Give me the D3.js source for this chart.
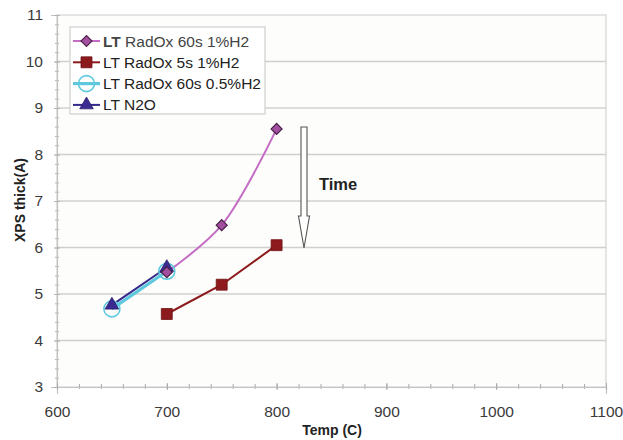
<!DOCTYPE html>
<html>
<head>
<meta charset="utf-8">
<script src="https://cdn.jsdelivr.net/npm/d3@7"></script>
<style>
  html, body { margin: 0; padding: 0; background: #fff; }
  svg { display: block; font-family: "Liberation Sans", Arial, sans-serif; }
</style>
</head>
<body>
<svg id="chart" width="623" height="440"></svg>
<script>
// Oxide thickness (XPS) versus anneal temperature
const xTicks = [600, 700, 800, 900, 1000, 1100];
const yTicks = [3, 4, 5, 6, 7, 8, 9, 10, 11];

const seriesNames = ["LT RadOx 60s 1%H2", "LT RadOx 5s 1%H2", "LT RadOx 60s 0.5%H2", "LT N2O"];

const radox60_1_temp = [700, 750, 800];
const radox60_1_thick = [5.47, 6.48, 8.55];

const radox5_1_temp = [700, 750, 800];
const radox5_1_thick = [4.57, 5.2, 6.05];

const radox60_05_temp = [650, 700];
const radox60_05_thick = [4.68, 5.49];

const n2o_temp = [650, 700];
const n2o_thick = [4.76, 5.57];

const svg = d3.select("#chart");
const plot = { left: 57, right: 606, top: 15, bottom: 387 };

const x = d3.scaleLinear().domain([600, 1100]).range([plot.left, plot.right]);
const y = d3.scaleLinear().domain([3, 11]).range([plot.bottom, plot.top]);

// plot background and frame
svg.append("rect")
  .attr("x", plot.left).attr("y", plot.top)
  .attr("width", plot.right - plot.left).attr("height", plot.bottom - plot.top)
  .attr("fill", "#fdfdfb").attr("stroke", "#d4d4d4").attr("stroke-width", 1.2);

// horizontal gridlines
svg.append("g").selectAll("line")
  .data(yTicks.filter(d => d > 3 && d < 11))
  .join("line")
  .attr("x1", plot.left).attr("x2", plot.right)
  .attr("y1", d => y(d)).attr("y2", d => y(d))
  .attr("stroke", "#d0d0d0").attr("stroke-width", 1.6);

// y axis with minor ticks
const yMinor = d3.range(3, 11.001, 0.2);
svg.append("g").attr("transform", `translate(${plot.left},0)`)
  .call(d3.axisLeft(y).tickValues(yMinor).tickSize(4).tickFormat(""))
  .call(g => g.select(".domain").remove())
  .call(g => g.selectAll(".tick line").attr("stroke", "#b4b4b4").attr("transform", "translate(2,0)"));
svg.append("g").attr("transform", `translate(${plot.left},0)`)
  .call(d3.axisLeft(y).tickValues(yTicks).tickSize(6).tickPadding(8).tickFormat(d3.format("d")))
  .call(g => g.select(".domain").attr("stroke", "#c4c4c4").attr("stroke-width", 1.2))
  .call(g => g.selectAll(".tick line").attr("stroke", "#b4b4b4").attr("transform", "translate(3,0)"))
  .call(g => g.selectAll(".tick text").attr("fill", "#3a3a3a").attr("font-size", 15.5)
    .attr("font-family", "'Liberation Sans', Arial, sans-serif"));

// x axis with minor ticks
const xMinor = d3.range(600, 1100.001, 20);
svg.append("g").attr("transform", `translate(0,${plot.bottom})`)
  .call(d3.axisBottom(x).tickValues(xMinor).tickSize(5).tickFormat(""))
  .call(g => g.select(".domain").remove())
  .call(g => g.selectAll(".tick line").attr("stroke", "#aaaaaa").attr("transform", "translate(0,-3)"));
svg.append("g").attr("transform", `translate(0,${plot.bottom})`)
  .call(d3.axisBottom(x).tickValues(xTicks).tickSize(7).tickPadding(12).tickFormat(d3.format("d")))
  .call(g => g.select(".domain").attr("stroke", "#c4c4c4").attr("stroke-width", 1.2))
  .call(g => g.selectAll(".tick line").attr("stroke", "#aaaaaa").attr("transform", "translate(0,-4)"))
  .call(g => g.selectAll(".tick text").attr("fill", "#3a3a3a").attr("font-size", 15.5)
    .attr("font-family", "'Liberation Sans', Arial, sans-serif"));

// axis titles
svg.append("text")
  .attr("x", 332).attr("y", 435)
  .attr("text-anchor", "middle").attr("font-weight", "bold").attr("font-size", 14).attr("fill", "#222")
  .text("Temp (C)");
svg.append("text")
  .attr("transform", "translate(25,200) rotate(-90)")
  .attr("text-anchor", "middle").attr("font-weight", "bold").attr("font-size", 14).attr("fill", "#222")
  .text("XPS thick(A)");

// series
const zip = (xs, ys) => xs.map((t, i) => ({ t, v: ys[i] }));
const lineStraight = d3.line().x(d => x(d.t)).y(d => y(d.v));
const lineSmooth = d3.line().x(d => x(d.t)).y(d => y(d.v)).curve(d3.curveCatmullRom.alpha(0.5));

const symDiamond = d3.symbol().type(d3.symbolSquare).size(60);
const symSquare = d3.symbol().type(d3.symbolSquare).size(120);
const symTriangle = d3.symbol().type(d3.symbolTriangle).size(80);

const series = [
  { name: seriesNames[2], data: zip(radox60_05_temp, radox60_05_thick), color: "#5ec9de", width: 3.2, line: lineStraight,
    marker: (g) => g.append("circle").attr("r", 8).attr("fill", "none").attr("stroke", "#5ec9de").attr("stroke-width", 1.6) },
  { name: seriesNames[3], data: zip(n2o_temp, n2o_thick), color: "#33298a", width: 2, line: lineStraight,
    marker: (g) => g.append("path").attr("d", symTriangle()).attr("fill", "#3b2b90").attr("stroke", "#2a1f6e").attr("stroke-width", 0.8) },
  { name: seriesNames[0], data: zip(radox60_1_temp, radox60_1_thick), color: "#c46cc4", width: 2, line: lineSmooth,
    marker: (g) => g.append("path").attr("d", symDiamond()).attr("transform", "rotate(45)")
      .attr("fill", "#a24f9f").attr("stroke", "#4a2148").attr("stroke-width", 1.2) },
  { name: seriesNames[1], data: zip(radox5_1_temp, radox5_1_thick), color: "#8d1b1d", width: 2, line: lineStraight,
    marker: (g) => g.append("path").attr("d", symSquare()).attr("fill", "#8d1b1d").attr("stroke", "#6e1214").attr("stroke-width", 0.8) }
];

series.forEach(s => {
  svg.append("path").datum(s.data)
    .attr("d", s.line).attr("fill", "none").attr("stroke", s.color).attr("stroke-width", s.width);
});
series.forEach(s => {
  s.data.forEach(d => {
    const g = svg.append("g").attr("transform", `translate(${x(d.t)},${y(d.v)})`);
    s.marker(g);
  });
});

// legend, rows in the order of seriesNames
const legend = svg.append("g");
legend.append("rect").attr("x", 70).attr("y", 27).attr("width", 195).attr("height", 87)
  .attr("fill", "#fff").attr("stroke", "#cfcfcf").attr("stroke-width", 1.2);
const byName = {};
series.forEach(s => byName[s.name] = s);
seriesNames.forEach((nm, i) => {
  const s = byName[nm];
  const ry = 41 + i * 21.3;
  legend.append("line").attr("x1", 73).attr("x2", 100).attr("y1", ry).attr("y2", ry)
    .attr("stroke", s.color).attr("stroke-width", s.width);
  const g = legend.append("g").attr("transform", `translate(86.5,${ry})`);
  s.marker(g);
  const parts = nm.split(" ");
  const t = legend.append("text").attr("x", 103).attr("y", ry + 5.5).attr("font-size", 15.5).attr("fill", "#222");
  t.append("tspan").attr("font-weight", i === 0 ? "bold" : "normal").attr("fill", i === 0 ? "#444" : "#222")
    .text(parts[0] + " ");
  t.append("tspan").attr("fill", i === 0 ? "#444" : "#222").text(parts.slice(1).join(" "));
});

// time arrow annotation
const ax = 304, aTop = 127, aHead = 216, aTip = 248;
svg.append("path")
  .attr("d", `M${ax - 3},${aTop} L${ax + 3},${aTop} L${ax + 3},${aHead} L${ax + 5.5},${aHead} L${ax},${aTip} L${ax - 5.5},${aHead} L${ax - 3},${aHead} Z`)
  .attr("fill", "#fff").attr("stroke", "#555").attr("stroke-width", 1.1);
svg.append("text").attr("x", 319).attr("y", 190)
  .attr("font-weight", "bold").attr("font-size", 16.5).attr("fill", "#222").text("Time");
</script>
</body>
</html>
